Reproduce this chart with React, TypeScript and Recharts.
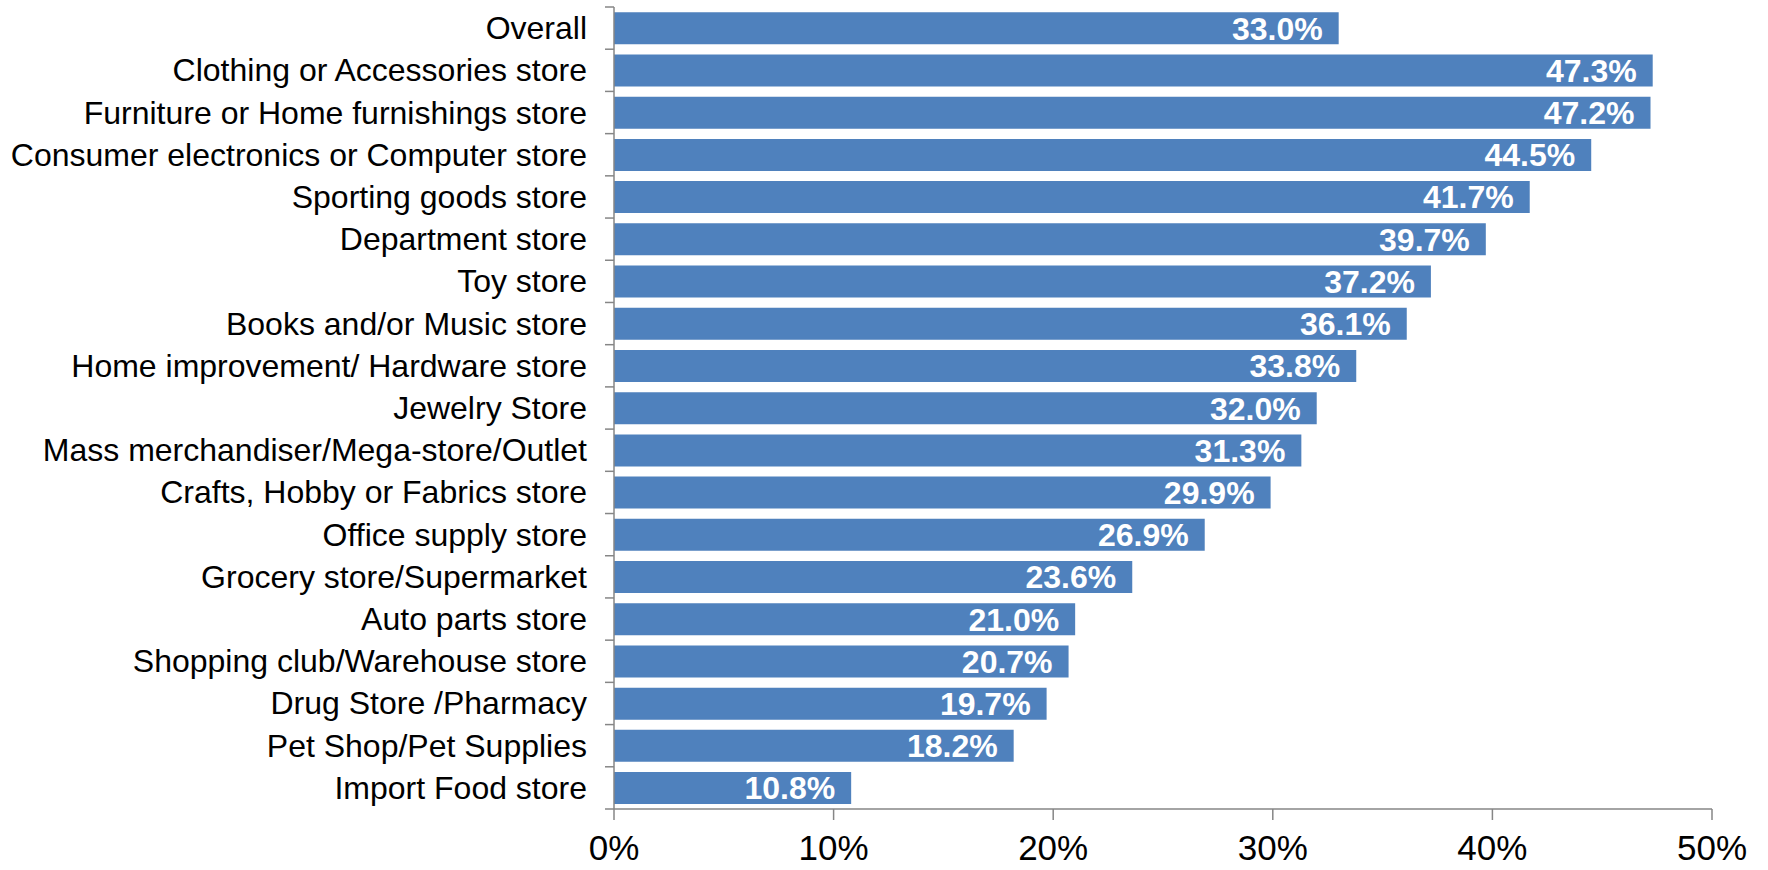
import { Bar, BarChart, LabelList, XAxis, YAxis } from "recharts";

const categories = [
  "Overall",
  "Clothing or Accessories store",
  "Furniture or Home furnishings store",
  "Consumer electronics or Computer store",
  "Sporting goods store",
  "Department store",
  "Toy store",
  "Books and/or Music store",
  "Home improvement/ Hardware store",
  "Jewelry Store",
  "Mass merchandiser/Mega-store/Outlet",
  "Crafts, Hobby or Fabrics store",
  "Office supply store",
  "Grocery store/Supermarket",
  "Auto parts store",
  "Shopping club/Warehouse store",
  "Drug Store /Pharmacy",
  "Pet Shop/Pet Supplies",
  "Import Food store",
];

const shares = [33.0, 47.3, 47.2, 44.5, 41.7, 39.7, 37.2, 36.1, 33.8, 32.0, 31.3, 29.9, 26.9, 23.6, 21.0, 20.7, 19.7, 18.2, 10.8];

const xTicks = [0, 10, 20, 30, 40, 50];

const data = categories.map((name, i) => ({ name, value: shares[i] }));

const FONT = "'Liberation Sans', Arial, sans-serif";
const AXIS = "#868686";
const TOP = 7;
const PLOT_H = 802;
const BAND = PLOT_H / categories.length;

// category ticks sit on the band edges, like the source chart
function CategoryTick(props: any) {
  const { x, y, payload, index } = props;
  const axisX = x + 27;
  return (
    <g>
      <line x1={axisX - 9} x2={axisX} y1={y - BAND / 2} y2={y - BAND / 2} stroke={AXIS} strokeWidth={1.5} />
      {index === categories.length - 1 ? (
        <line x1={axisX - 9} x2={axisX} y1={y + BAND / 2} y2={y + BAND / 2} stroke={AXIS} strokeWidth={1.5} />
      ) : null}
      <text x={x} y={y} dy={11} textAnchor="end" fill="#000" fontSize={32} fontFamily={FONT}>
        {payload.value}
      </text>
    </g>
  );
}

export default function App() {
  return (
    <div style={{ position: "absolute", left: 0, top: 0, background: "#fff" }}>
      <BarChart
        width={1768}
        height={870}
        data={data}
        layout="vertical"
        margin={{ top: TOP, right: 56, bottom: 0, left: 0 }}
        barCategoryGap="12.5%"
      >
        <XAxis
          type="number"
          domain={[0, 50]}
          ticks={xTicks}
          tickFormatter={(v: number) => `${v}%`}
          axisLine={{ stroke: AXIS, strokeWidth: 1.5 }}
          tickLine={{ stroke: AXIS, strokeWidth: 1.5 }}
          tickSize={11}
          tickMargin={15}
          height={61}
          tick={{ fill: "#000", fontSize: 35, fontFamily: FONT }}
          interval={0}
        />
        <YAxis
          type="category"
          dataKey="name"
          width={614}
          axisLine={{ stroke: AXIS, strokeWidth: 1.5 }}
          tickLine={false}
          tickSize={9}
          tickMargin={18}
          interval={0}
          tick={<CategoryTick />}
        />
        <Bar dataKey="value" fill="#4F81BD" isAnimationActive={false}>
          <LabelList
            dataKey="value"
            position="insideRight"
            offset={16}
            fill="#fff"
            fontSize={32}
            fontWeight="bold"
            fontFamily={FONT}
            formatter={(v: any) => `${Number(v).toFixed(1)}%`}
          />
        </Bar>
      </BarChart>
    </div>
  );
}
